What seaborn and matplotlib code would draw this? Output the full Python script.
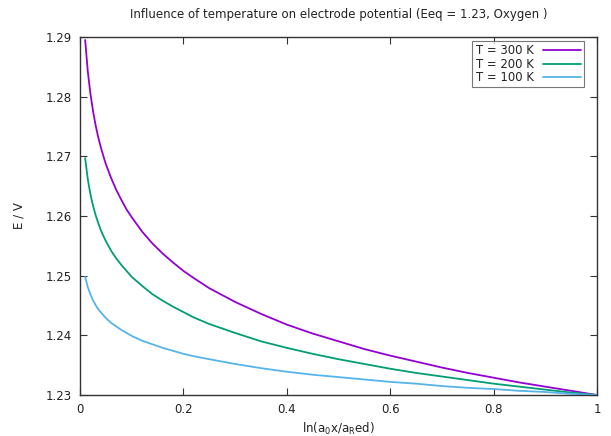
import matplotlib
matplotlib.use("Agg")
import matplotlib.pyplot as plt
import seaborn as sns
import pandas as pd
from matplotlib.ticker import FixedLocator, FuncFormatter

# ratio a_Ox / a_Red (x axis)
x_vals = [0.01, 0.015, 0.02, 0.025, 0.03, 0.035, 0.04, 0.045, 0.05, 0.06, 0.07,
          0.08, 0.09, 0.10, 0.12, 0.14, 0.16, 0.18, 0.20, 0.22, 0.25, 0.30, 0.35,
          0.40, 0.45, 0.50, 0.55, 0.60, 0.65, 0.70, 0.75, 0.80, 0.85, 0.90, 0.95,
          1.00]

e_300 = [1.2895, 1.2843, 1.2806, 1.2777, 1.2753, 1.2733, 1.2716, 1.2701, 1.2687,
         1.2664, 1.2644, 1.2627, 1.2611, 1.2598, 1.2574, 1.2554, 1.2537, 1.2522,
         1.2508, 1.2496, 1.2479, 1.2456, 1.2436, 1.2418, 1.2403, 1.2390, 1.2377,
         1.2366, 1.2356, 1.2346, 1.2337, 1.2329, 1.2321, 1.2314, 1.2307, 1.2300]
e_200 = [1.2697, 1.2662, 1.2637, 1.2618, 1.2602, 1.2589, 1.2577, 1.2567, 1.2558,
         1.2542, 1.2529, 1.2518, 1.2508, 1.2498, 1.2483, 1.2469, 1.2458, 1.2448,
         1.2439, 1.2430, 1.2419, 1.2404, 1.2390, 1.2379, 1.2369, 1.2360, 1.2352,
         1.2344, 1.2337, 1.2331, 1.2325, 1.2319, 1.2314, 1.2309, 1.2304, 1.2300]
e_100 = [1.2498, 1.2481, 1.2469, 1.2459, 1.2451, 1.2444, 1.2439, 1.2434, 1.2429,
         1.2421, 1.2415, 1.2409, 1.2404, 1.2399, 1.2391, 1.2385, 1.2379, 1.2374,
         1.2369, 1.2365, 1.2360, 1.2352, 1.2345, 1.2339, 1.2334, 1.2330, 1.2326,
         1.2322, 1.2319, 1.2315, 1.2312, 1.2310, 1.2307, 1.2305, 1.2302, 1.2300]

labels = ["T = 300 K", "T = 200 K", "T = 100 K"]
colors = ["#9400D3", "#009E73", "#56B4E9"]
x_ticks = [0, 0.2, 0.4, 0.6, 0.8, 1.0]
x_tick_labels = ["0", "0.2", "0.4", "0.6", "0.8", "1"]
y_ticks = [1.23, 1.24, 1.25, 1.26, 1.27, 1.28, 1.29]

rows = []
for lab, ys in zip(labels, [e_300, e_200, e_100]):
    for xv, yv in zip(x_vals, ys):
        rows.append({"x": xv, "E": yv, "T": lab})
df = pd.DataFrame(rows)

sns.set_theme(style="white")
plt.rcParams["font.family"] = ["DejaVu Sans"]
plt.rcParams["mathtext.default"] = "regular"

fig = plt.figure(figsize=(6.11, 4.36), dpi=100)
ax = fig.add_axes([80 / 611, 41 / 436, 517 / 611, 358 / 436])

sns.lineplot(data=df, x="x", y="E", hue="T", hue_order=labels,
             palette=dict(zip(labels, colors)), linewidth=1.3, ax=ax,
             legend=True)
for ln in ax.get_lines():
    ln.set_solid_joinstyle("round")

ax.set_xlim(0, 1)
ax.set_ylim(1.23, 1.29)
ax.xaxis.set_major_locator(FixedLocator(x_ticks))
ax.set_xticklabels(x_tick_labels)
ax.yaxis.set_major_locator(FixedLocator(y_ticks))
ax.yaxis.set_major_formatter(FuncFormatter(lambda v, p: f"{v:.2f}"))

ax.tick_params(direction="in", length=5, width=0.8, color="#333333",
               top=True, right=True, bottom=True, left=True,
               labelsize=8.5, labelcolor="#222222", pad=6)
for s in ax.spines.values():
    s.set_visible(True)
    s.set_color("#333333")
    s.set_linewidth(1.0)

ax.set_xlabel("ln(a$_0$x/a$_R$ed)", fontsize=8.5, color="#222222", labelpad=3)
ax.set_ylabel("E / V", fontsize=8.5, color="#222222", labelpad=14)
ax.set_title("Influence of temperature on electrode potential (Eeq = 1.23, Oxygen )",
             fontsize=8.5, color="#222222", pad=14)

leg = ax.legend(loc="upper right", bbox_to_anchor=((584 - 80) / 517, 1 - 4 / 358),
                markerfirst=False, fontsize=8.4, frameon=True, fancybox=False,
                handlelength=3.2, handletextpad=0.8, borderpad=0.3,
                labelspacing=0.02, borderaxespad=0.0)
leg.get_frame().set_edgecolor("#555555")
leg.get_frame().set_linewidth(0.8)
for t in leg.get_texts():
    t.set_color("#222222")

fig.savefig("out.png", dpi=100)
